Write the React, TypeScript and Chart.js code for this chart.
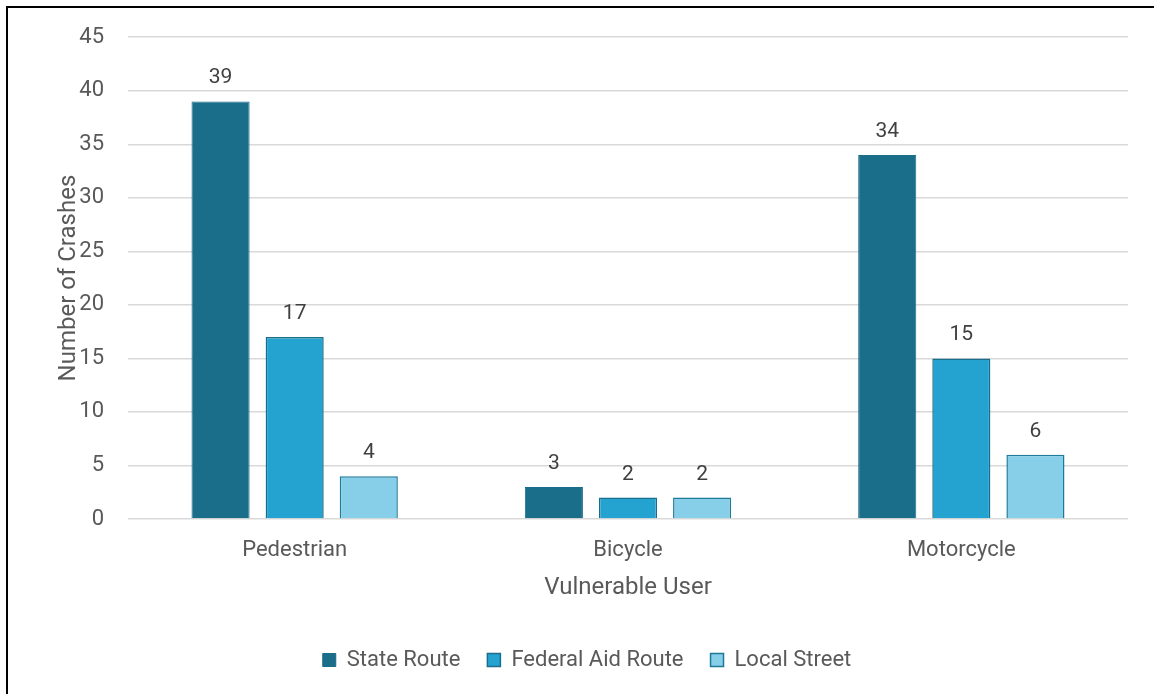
import React, { useEffect, useRef } from "react";
import { Chart, registerables } from "chart.js";

Chart.register(...registerables);

const categories = ["Pedestrian", "Bicycle", "Motorcycle"];
const stateRoute = [39, 3, 34];
const federalAidRoute = [17, 2, 15];
const localStreet = [4, 2, 6];
const seriesNames = ["State Route", "Federal Aid Route", "Local Street"];
const yTicks = [0, 5, 10, 15, 20, 25, 30, 35, 40, 45];

const FONT = "Roboto, 'Liberation Sans', sans-serif";
const TEXT = "#595959";

const dataLabelPlugin = {
  id: "dataLabels",
  afterDatasetsDraw(chart: any) {
    const ctx = chart.ctx;
    ctx.save();
    ctx.font = `21px ${FONT}`;
    ctx.fillStyle = "#404040";
    ctx.textAlign = "center";
    ctx.textBaseline = "alphabetic";
    chart.data.datasets.forEach((ds: any, i: number) => {
      const meta = chart.getDatasetMeta(i);
      meta.data.forEach((bar: any, j: number) => {
        ctx.fillText(String(ds.data[j]), bar.x, bar.y - 18);
      });
    });
    ctx.restore();
  },
};

export default function App() {
  const ref = useRef<HTMLCanvasElement>(null);
  useEffect(() => {
    document.body.style.margin = "0";
    document.body.style.overflow = "hidden";
    const chart = new Chart(ref.current!, {
      type: "bar",
      data: {
        labels: categories,
        datasets: [
          { label: seriesNames[0], data: stateRoute, backgroundColor: "#1b6e8a", borderColor: "#1b6e8a", borderWidth: 1 },
          { label: seriesNames[1], data: federalAidRoute, backgroundColor: "#24a3d1", borderColor: "#1b6e8a", borderWidth: 1.5 },
          { label: seriesNames[2], data: localStreet, backgroundColor: "#87cee8", borderColor: "#1f7a99", borderWidth: 1.5 },
        ],
      },
      options: {
        animation: false,
        responsive: false,
        maintainAspectRatio: false,
        layout: { padding: { top: 35, right: 26, bottom: 22, left: 46 } },
        datasets: { bar: { categoryPercentage: 0.667, barPercentage: 0.784 } } as any,
        plugins: {
          legend: {
            position: "bottom",
            labels: {
              font: { family: FONT, size: 22 },
              color: TEXT,
              boxWidth: 13,
              boxHeight: 13,
              padding: 27,
            },
          },
          tooltip: { enabled: false },
        },
        scales: {
          x: {
            grid: { display: false, drawTicks: false },
            border: { display: false },
            ticks: { font: { family: FONT, size: 22 }, color: TEXT, padding: 18 },
            title: {
              display: true,
              text: "Vulnerable User",
              font: { family: FONT, size: 24 },
              color: TEXT,
              padding: { top: 4, bottom: 20 },
            },
            afterFit: (s: any) => { s.height = 103; },
          },
          y: {
            min: 0,
            max: 45,
            afterBuildTicks: (s: any) => { s.ticks = yTicks.map((v) => ({ value: v })); },
            grid: { color: "#d9d9d9", lineWidth: 1.5, drawTicks: false },
            border: { display: false },
            ticks: { font: { family: FONT, size: 22 }, color: TEXT, padding: 24 },
            title: {
              display: true,
              text: "Number of Crashes",
              font: { family: FONT, size: 24 },
              color: TEXT,
              padding: { top: 9, bottom: 0 },
            },
            afterFit: (s: any) => { s.width = 82; },
          },
        },
      },
      plugins: [dataLabelPlugin],
    });
    return () => chart.destroy();
  }, []);
  return (
    <div style={{ position: "relative", width: 1154, height: 694, background: "#fff", overflow: "hidden" }}>
      <div
        style={{
          position: "absolute",
          left: 6,
          top: 6,
          width: 1200,
          height: 800,
          borderLeft: "2px solid #000",
          borderTop: "2px solid #000",
        }}
      />
      <canvas ref={ref} width={1154} height={703} style={{ position: "absolute", left: 0, top: 0 }} />
    </div>
  );
}
